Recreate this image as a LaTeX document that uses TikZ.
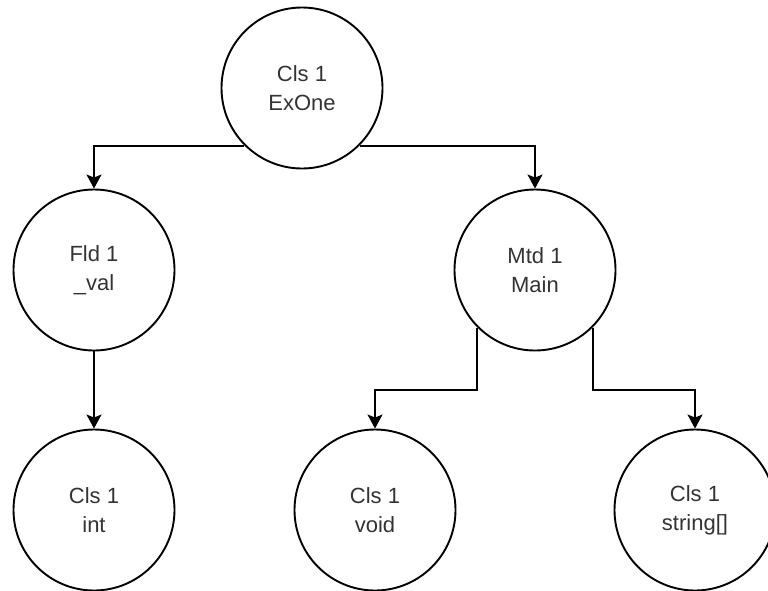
\documentclass[tikz,border=0pt]{standalone}
\usepackage{fontspec}
\setmainfont{Liberation Sans}
\usetikzlibrary{arrows.meta}
\definecolor{txt}{HTML}{333333}
\tikzset{
  elem/.style={circle, draw=black, line width=1.9pt, minimum size=161pt, inner sep=0pt,
    align=center, text=txt, font=\fontsize{22}{29}\selectfont},
  link/.style={line width=1.9pt, -{Stealth[length=14pt, width=15pt, inset=3pt]}}
}
\begin{document}
\begin{tikzpicture}[x=1pt, y=-1pt]
  \useasboundingbox (0,0) rectangle (768,590);
  \clip (0,0) rectangle (768,590);
  % tree of elements
  \node[elem] (cls)  at (302,88)  {Cls 1\\ExOne};
  \node[elem] (fld)  at (94,270)  {Fld 1\\\_val};
  \node[elem] (mtd)  at (535,270) {Mtd 1\\Main};
  \node[elem] (int)  at (94,510)  {Cls 1\\int};
  \node[elem] (void) at (375,510) {Cls 1\\void};
  \node[elem] (str)  at (695,510) {Cls 1\\string[]};
  % connectors
  \draw[link] (cls.south west) -| (fld.north);
  \draw[link] (cls.south east) -| (mtd.north);
  \draw[link] (fld.south) -- (int.north);
  \draw[link] (mtd.south west) -- ++(0,62) -| (void.north);
  \draw[link] (mtd.south east) -- ++(0,62) -| (str.north);
\end{tikzpicture}
\end{document}
